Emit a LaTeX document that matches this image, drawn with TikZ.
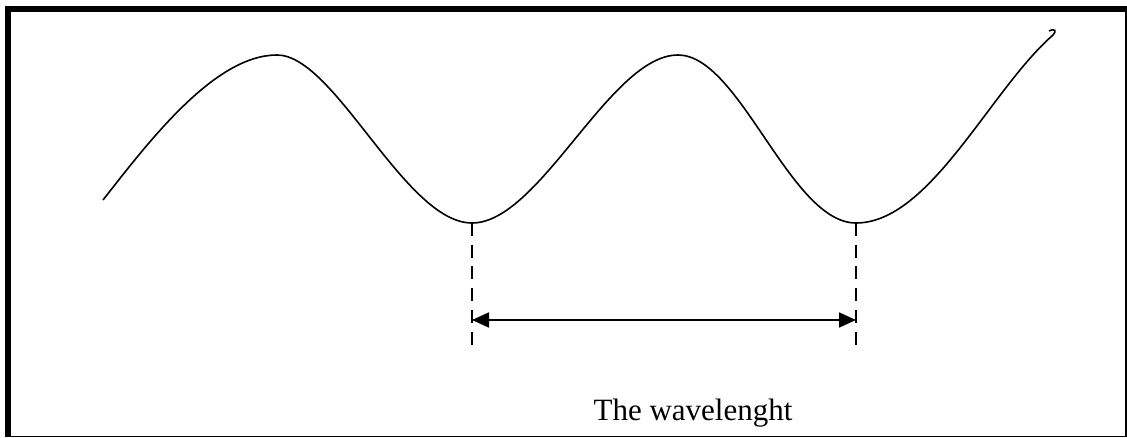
\documentclass[tikz,border=0pt]{standalone}
\usepackage{fontspec}
\setmainfont{Liberation Serif}
\usetikzlibrary{arrows.meta}

\begin{document}
\begin{tikzpicture}[x=1pt,y=-1pt,>={Triangle[length=17pt,width=15pt]}]
\useasboundingbox (0,0) rectangle (1127,438);
% frame
\draw[line width=1.6pt] (8,9) rectangle (1126,436.5);
\draw[line width=6pt] (8,437) -- (8,9) -- (1127,9);
% the wave
\draw[line width=1.6pt] (103,200) .. controls (150,140) and (215,55) .. (277,55)
 .. controls (335,55) and (405,223) .. (472,223)
 .. controls (540,223) and (610,55) .. (678,55)
 .. controls (740,55) and (790,223) .. (856,223)
 .. controls (930,223) and (990,90) .. (1053,35)
 .. controls (1057,31) and (1055,28) .. (1049,31);
\coordinate (lowA) at (472,223);
\coordinate (lowB) at (856,223);
\coordinate (footA) at (472,346);
\coordinate (footB) at (856,346);
\coordinate (endA) at (472,320);
\coordinate (endB) at (856,320);
\draw[line width=1.6pt,dash pattern=on 13pt off 8.7pt] (lowA) -- (footA);
\draw[line width=1.6pt,dash pattern=on 13pt off 8.7pt] (lowB) -- (footB);
\draw[<->,line width=1.8pt] (endA) -- (endB);
\node[anchor=base,font=\fontsize{31}{36}\selectfont,inner sep=0pt] (label) at (693,420) {The wavelenght};
\end{tikzpicture}
\end{document}
